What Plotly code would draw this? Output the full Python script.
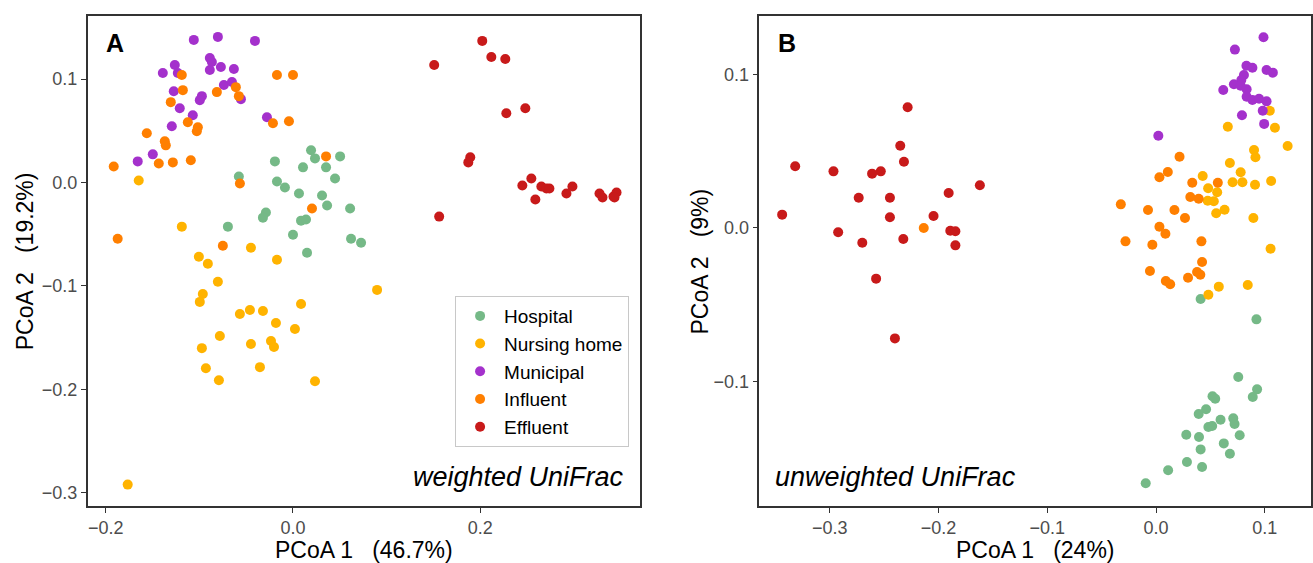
import plotly.graph_objects as go

groups = ["Hospital", "Nursing home", "Municipal", "Influent", "Effluent"]
colors = ["#75B987", "#FFB300", "#A431CC", "#FF7F00", "#C81A1A"]

# ---- Panel A: weighted UniFrac ----
a_hosp_x = [-0.0578, -0.0193, -0.0171, -0.0086, 0.0064, 0.0107, -0.0289, -0.0321, 0.0086, 0.0139, -0.0695, 0.0000,
            0.0150, 0.0193, 0.0235, 0.0503, 0.0353, 0.0449, 0.0310, 0.0364, 0.0610, 0.0620, 0.0727]
a_hosp_y = [0.0058, 0.0204, 0.0010, -0.0049, -0.0107, 0.0146, -0.0291, -0.0340, -0.0369, -0.0359, -0.0427, -0.0505,
            -0.0680, 0.0311, 0.0233, 0.0252, 0.0146, 0.0039, -0.0126, -0.0223, -0.0252, -0.0544, -0.0583]
a_nurs_x = [-0.1647, -0.1187, -0.0449, -0.1005, -0.0909, -0.0171, -0.0802, -0.0963, -0.0995, -0.0567, -0.0460, -0.0321,
            0.0086, -0.0182, 0.0021, -0.0781, -0.0235, -0.0203, -0.0973, -0.0449, -0.0930, -0.0353, -0.0791, -0.1765,
            0.0898, 0.0235]
a_nurs_y = [0.0019, -0.0427, -0.0631, -0.0718, -0.0786, -0.0748, -0.0961, -0.1078, -0.1155, -0.1272, -0.1233, -0.1243,
            -0.1175, -0.1359, -0.1417, -0.1485, -0.1534, -0.1592, -0.1602, -0.1563, -0.1796, -0.1786, -0.1913, -0.2922,
            -0.1039, -0.1922]
a_muni_x = [-0.1059, -0.0802, -0.0406, -0.0888, -0.1262, -0.1390, -0.0866, -0.0770, -0.0631, -0.0888, -0.1230, -0.0738,
            -0.0652, -0.1273, -0.0973, -0.0995, -0.0556, -0.1209, -0.1070, -0.0278, -0.1294, -0.1497, -0.1658]
a_muni_y = [0.1379, 0.1408, 0.1369, 0.1204, 0.1136, 0.1058, 0.1165, 0.1117, 0.1097, 0.1087, 0.1058, 0.0942,
            0.0971, 0.0883, 0.0835, 0.0796, 0.0806, 0.0718, 0.0650, 0.0631, 0.0544, 0.0272, 0.0204]
a_infl_x = [-0.1187, -0.1176, -0.1305, -0.0813, -0.0610, -0.0578, -0.0171, 0.0000, -0.0214, -0.0043, -0.1123, -0.1016,
            -0.1027, -0.1561, -0.1369, -0.1358, -0.1433, -0.1283, -0.1091, -0.1914, -0.0567, -0.1872, -0.0749, 0.0353,
            0.0203]
a_infl_y = [0.1039, 0.0893, 0.0777, 0.0874, 0.0922, 0.0835, 0.1039, 0.1039, 0.0573, 0.0592, 0.0583, 0.0534,
            0.0495, 0.0476, 0.0398, 0.0359, 0.0184, 0.0194, 0.0214, 0.0155, -0.0010, -0.0544, -0.0612, 0.0252,
            -0.0252]
a_effl_x = [0.2021, 0.1508, 0.2118, 0.2267, 0.2278, 0.2481, 0.1893, 0.1872, 0.2545, 0.2449, 0.2652, 0.2706,
            0.2738, 0.2588, 0.2984, 0.2920, 0.3273, 0.3305, 0.3422, 0.3455, 0.3433, 0.1561]
a_effl_y = [0.1369, 0.1136, 0.1214, 0.1194, 0.0670, 0.0718, 0.0243, 0.0194, 0.0039, -0.0029, -0.0039, -0.0058,
            -0.0058, -0.0165, -0.0039, -0.0107, -0.0107, -0.0146, -0.0136, -0.0097, -0.0146, -0.0330]

# ---- Panel B: unweighted UniFrac ----
b_hosp_x = [0.0410, 0.0923, 0.0756, 0.0929, 0.0889, 0.0519, 0.0544, 0.0460, 0.0392, 0.0593, 0.0710, 0.0722,
            0.0481, 0.0516, 0.0278, 0.0395, 0.0769, 0.0623, 0.0410, 0.0679, 0.0284, 0.0423, 0.0111, -0.0095]
b_hosp_y = [-0.0463, -0.0595, -0.0971, -0.1051, -0.1101, -0.1096, -0.1112, -0.1181, -0.1212, -0.1249, -0.1240, -0.1277,
            -0.1296, -0.1290, -0.1347, -0.1362, -0.1350, -0.1403, -0.1442, -0.1470, -0.1524, -0.1557, -0.1578, -0.1663]
b_nurs_x = [0.1046, 0.0660, 0.1093, 0.1210, 0.0901, 0.0914, 0.0679, 0.0778, 0.0429, 0.0704, 0.0794, 0.0910,
            0.1058, 0.0479, 0.0562, 0.0475, 0.0531, 0.0553, 0.0630, 0.0895, 0.1053, 0.0577, 0.0843, 0.0481]
b_nurs_y = [0.0764, 0.0660, 0.0653, 0.0534, 0.0508, 0.0461, 0.0423, 0.0363, 0.0339, 0.0298, 0.0298, 0.0282,
            0.0306, 0.0259, 0.0233, 0.0178, 0.0174, 0.0096, 0.0119, 0.0065, -0.0135, -0.0382, -0.0371, -0.0435]
b_muni_x = [0.0988, 0.0725, 0.0831, 0.0886, 0.1016, 0.1074, 0.0808, 0.0784, 0.0716, 0.0778, 0.0618, 0.0833,
            0.0833, 0.0886, 0.0947, 0.1016, 0.0981, 0.0790, 0.0994, 0.0021]
b_muni_y = [0.1242, 0.1162, 0.1057, 0.1044, 0.1029, 0.1012, 0.0997, 0.0964, 0.0936, 0.0927, 0.0899, 0.0904,
            0.0855, 0.0834, 0.0842, 0.0825, 0.0764, 0.0734, 0.0678, 0.0601]
b_infl_x = [0.0216, 0.0108, 0.0031, 0.0333, 0.0568, 0.0315, 0.0392, -0.0324, -0.0074, 0.0169, 0.0266, 0.0031,
            0.0086, -0.0281, -0.0034, 0.0417, 0.0423, -0.0056, 0.0090, 0.0130, 0.0294, 0.0377, 0.0407, -0.2136]
b_infl_y = [0.0464, 0.0365, 0.0330, 0.0295, 0.0295, 0.0202, 0.0191, 0.0154, 0.0117, 0.0117, 0.0065, 0.0008,
            -0.0037, -0.0087, -0.0109, -0.0087, -0.0221, -0.0280, -0.0345, -0.0367, -0.0324, -0.0287, -0.0304, 0.0000]
b_effl_x = [-0.2284, -0.2352, -0.2318, -0.3318, -0.2966, -0.2611, -0.2531, -0.1620, -0.1907, -0.2734, -0.2447, -0.3438,
            -0.2447, -0.2046, -0.2923, -0.2701, -0.2324, -0.1892, -0.1845, -0.1845, -0.2574, -0.2401]
b_effl_y = [0.0786, 0.0536, 0.0432, 0.0402, 0.0369, 0.0354, 0.0369, 0.0278, 0.0228, 0.0197, 0.0197, 0.0087,
            0.0070, 0.0078, -0.0028, -0.0096, -0.0072, -0.0018, -0.0021, -0.0113, -0.0330, -0.0719]

a_ticks_x = [-0.2, 0.0, 0.2]
a_ticks_y = [0.1, 0.0, -0.1, -0.2, -0.3]
b_ticks_x = [-0.3, -0.2, -0.1, 0.0, 0.1]
b_ticks_y = [0.1, 0.0, -0.1]

panel_a = [(a_hosp_x, a_hosp_y), (a_nurs_x, a_nurs_y), (a_muni_x, a_muni_y), (a_infl_x, a_infl_y), (a_effl_x, a_effl_y)]
panel_b = [(b_hosp_x, b_hosp_y), (b_nurs_x, b_nurs_y), (b_muni_x, b_muni_y), (b_infl_x, b_infl_y), (b_effl_x, b_effl_y)]

FONT = "Liberation Sans, Arial, Helvetica, sans-serif"
fig = go.Figure()
for i, (g, c) in enumerate(zip(groups, colors)):
    xs, ys = panel_a[i]
    fig.add_trace(go.Scatter(x=xs, y=ys, mode="markers", name=g, legendgroup=g,
                             marker=dict(color=c, size=10, line=dict(width=0)),
                             xaxis="x", yaxis="y"))
for i, (g, c) in enumerate(zip(groups, colors)):
    xs, ys = panel_b[i]
    fig.add_trace(go.Scatter(x=xs, y=ys, mode="markers", name=g, legendgroup=g, showlegend=False,
                             marker=dict(color=c, size=10, line=dict(width=0)),
                             xaxis="x2", yaxis="y2"))

NB = "\u00a0"
axis_common = dict(showline=True, linecolor="#333333", linewidth=1.5, mirror=True, automargin=False,
                   showgrid=False, zeroline=False, ticks="outside", ticklen=5, tickwidth=1.2,
                   tickcolor="#333333", tickfont=dict(size=18, color="#4D4D4D", family=FONT),
                   tickformat=".1f")
title_font = dict(size=23, color="black", family=FONT)

fig.update_layout(
    width=1313, height=563,
    margin=dict(l=0, r=0, t=0, b=0, autoexpand=False),
    paper_bgcolor="white", plot_bgcolor="white",
    font=dict(family=FONT),
    xaxis=dict(domain=[0.0668, 0.4874], range=[-0.2192, 0.3705], tickvals=a_ticks_x, **axis_common),
    yaxis=dict(domain=[0.1012, 0.9716], range=[-0.3129, 0.161], tickvals=a_ticks_y, **axis_common),
    xaxis2=dict(domain=[0.5783, 0.9985], range=[-0.3648, 0.1425], tickvals=b_ticks_x, anchor="y2", **axis_common),
    yaxis2=dict(domain=[0.1012, 0.9716], range=[-0.1811, 0.1381], tickvals=b_ticks_y, anchor="x2", **axis_common),
    legend=dict(x=0.3466, y=0.4742, xanchor="left", yanchor="top", bgcolor="white",
                bordercolor="#C8C8C8", borderwidth=1, font=dict(size=19, color="black", family=FONT),
                traceorder="grouped", tracegroupgap=0, itemwidth=38),
    showlegend=True,
)

# axis titles
fig.add_annotation(xref="x domain", yref="paper", x=0.5, y=0.0231, xanchor="center", yanchor="middle",
                   text="PCoA 1" + NB * 3 + "(46.7%)", showarrow=False, font=title_font)
fig.add_annotation(xref="x2 domain", yref="paper", x=0.5, y=0.0231, xanchor="center", yanchor="middle",
                   text="PCoA 1" + NB * 3 + "(24%)", showarrow=False, font=title_font)
fig.add_annotation(xref="paper", yref="y domain", x=0.0192, y=0.5, xanchor="center", yanchor="middle",
                   textangle=-90, text="PCoA 2" + NB * 3 + "(19.2%)", showarrow=False, font=title_font)
fig.add_annotation(xref="paper", yref="y2 domain", x=0.5335, y=0.5, xanchor="center", yanchor="middle",
                   textangle=-90, text="PCoA 2" + NB * 3 + "(9%)", showarrow=False, font=title_font)

fig.add_annotation(xref="x domain", yref="y domain", x=0.03, y=0.978, xanchor="left", yanchor="top",
                   text="<b>A</b>", showarrow=False, font=dict(size=25, color="black", family=FONT))
fig.add_annotation(xref="x2 domain", yref="y2 domain", x=0.03, y=0.978, xanchor="left", yanchor="top",
                   text="<b>B</b>", showarrow=False, font=dict(size=25, color="black", family=FONT))
fig.add_annotation(xref="x domain", yref="y domain", x=0.975, y=0.025, xanchor="right", yanchor="bottom",
                   text="<i>weighted UniFrac</i>", showarrow=False, font=dict(size=27, color="black", family=FONT))
fig.add_annotation(xref="x2 domain", yref="y2 domain", x=0.025, y=0.025, xanchor="left", yanchor="bottom",
                   text="<i>unweighted UniFrac</i>", showarrow=False, font=dict(size=27, color="black", family=FONT))

fig.write_html("out.html", config={"displayModeBar": False},
               post_script="document.body.style.margin='0';document.body.style.padding='0';"
                           "document.documentElement.style.overflow='hidden';")
